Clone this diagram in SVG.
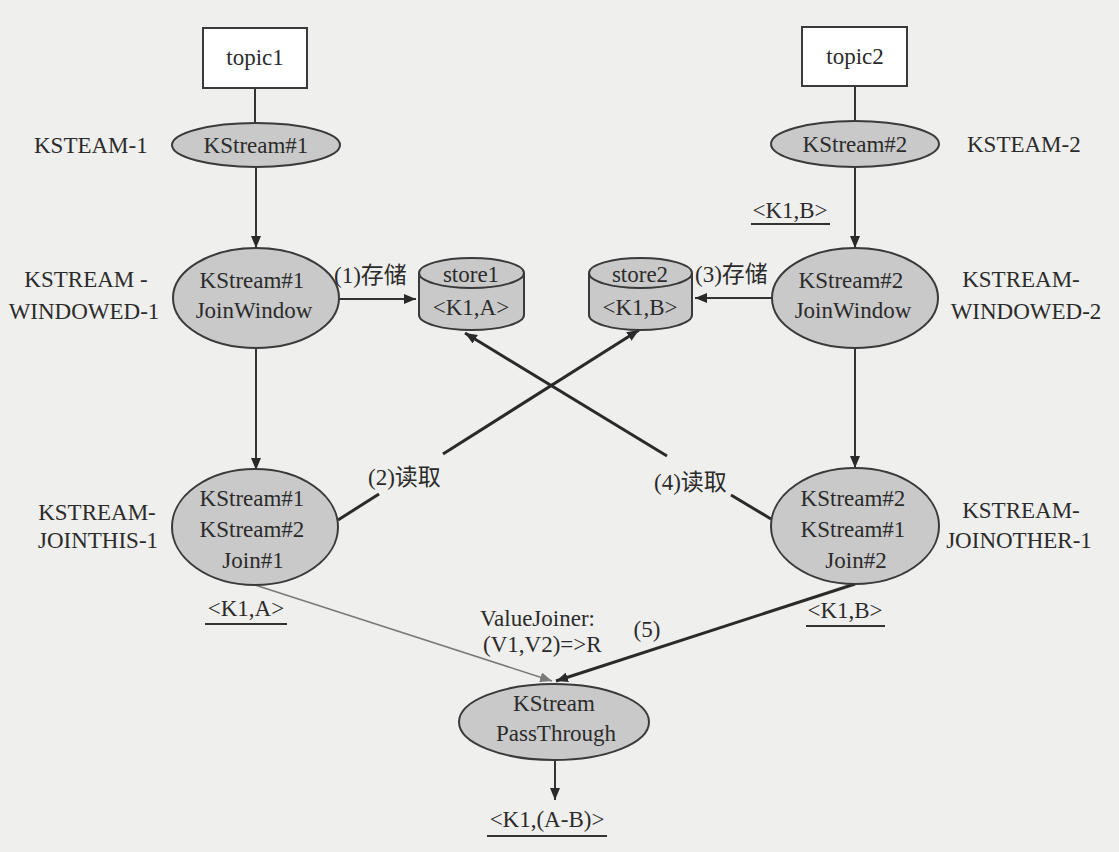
<svg xmlns="http://www.w3.org/2000/svg" width="1119" height="852" viewBox="0 0 1119 852">
<style>
text{font-family:"Liberation Serif","Noto Sans CJK SC",serif;font-size:23px;fill:#2b2b2b}
.m{text-anchor:middle}
.node{fill:#c9c9c9;stroke:#3a3a3a;stroke-width:2}
.box{fill:#ffffff;stroke:#3a3a3a;stroke-width:2}
.ln{stroke:#333;stroke-width:2;fill:none}
.thick{stroke:#2a2a2a;stroke-width:3;fill:none}
.thin{stroke:#7a7a7a;stroke-width:1.6;fill:none}
.ul{stroke:#333;stroke-width:2.2}
</style>
<defs>
<marker id="ah" viewBox="0 0 12 10" refX="12" refY="5" markerWidth="12" markerHeight="10" markerUnits="userSpaceOnUse" orient="auto">
<path d="M0,0 L12,5 L0,10 Z" fill="#2a2a2a"/>
</marker>
<marker id="ahg" viewBox="0 0 12 10" refX="12" refY="5" markerWidth="12" markerHeight="10" markerUnits="userSpaceOnUse" orient="auto">
<path d="M0,0 L12,5 L0,10 Z" fill="#7a7a7a"/>
</marker>
</defs>
<rect x="0" y="0" width="1119" height="852" fill="#efefed"/>

<g id="connectors">
<line class="ln" x1="255" y1="88" x2="255" y2="122"/>
<line class="ln" x1="855" y1="86" x2="855" y2="120"/>
<line class="ln" x1="256" y1="167" x2="256" y2="248" marker-end="url(#ah)"/>
<line class="ln" x1="855" y1="167" x2="855" y2="248" marker-end="url(#ah)"/>
<line class="ln" x1="339" y1="299" x2="416" y2="299" marker-end="url(#ah)"/>
<line class="ln" x1="772" y1="298" x2="695" y2="298" marker-end="url(#ah)"/>
<line class="ln" x1="256" y1="348" x2="256" y2="470" marker-end="url(#ah)"/>
<line class="ln" x1="855" y1="348" x2="855" y2="468" marker-end="url(#ah)"/>
<line class="thick" x1="338" y1="520" x2="379" y2="494"/>
<line class="thick" x1="443" y1="454" x2="639" y2="330" marker-end="url(#ah)"/>
<line class="thick" x1="771" y1="519" x2="731" y2="495"/>
<line class="thick" x1="667" y1="456" x2="465" y2="333" marker-end="url(#ah)"/>
<line class="thin" x1="255" y1="585" x2="552" y2="681" marker-end="url(#ahg)"/>
<line class="thick" x1="855" y1="584" x2="556" y2="681" marker-end="url(#ah)"/>
<line class="ln" x1="555" y1="760" x2="555" y2="800" marker-end="url(#ah)"/>
</g>

<g id="topic1">
<rect class="box" x="203" y="28" width="104" height="60"/>
<text class="m" x="255" y="65">topic1</text>
</g>
<g id="topic2">
<rect class="box" x="802" y="27" width="105" height="59"/>
<text class="m" x="855" y="64">topic2</text>
</g>

<g id="kstream1">
<ellipse class="node" cx="256" cy="145" rx="84" ry="22"/>
<text class="m" x="256" y="153">KStream#1</text>
<text x="34" y="153">KSTEAM-1</text>
</g>
<g id="kstream2">
<ellipse class="node" cx="855" cy="144" rx="84" ry="23"/>
<text class="m" x="855" y="152">KStream#2</text>
<text x="967" y="152">KSTEAM-2</text>
<text class="m" x="790" y="218">&lt;K1,B&gt;</text>
<line class="ul" x1="751" y1="224" x2="830" y2="224"/>
</g>

<g id="joinwindow1">
<ellipse class="node" cx="256" cy="298" rx="83" ry="50"/>
<text class="m" x="252" y="288">KStream#1</text>
<text class="m" x="254" y="318">JoinWindow</text>
<text class="m" x="86" y="287">KSTREAM -</text>
<text class="m" x="84" y="319">WINDOWED-1</text>
<text x="334" y="283">(1)存储</text>
</g>
<g id="joinwindow2">
<ellipse class="node" cx="855" cy="298" rx="83" ry="50"/>
<text class="m" x="851" y="288">KStream#2</text>
<text class="m" x="853" y="318">JoinWindow</text>
<text class="m" x="1021" y="287">KSTREAM-</text>
<text class="m" x="1026" y="319">WINDOWED-2</text>
<text x="695" y="282">(3)存储</text>
</g>

<g id="store1">
<path class="node" d="M419,273 L419,315 A52.5,15 0 0 0 524,315 L524,273"/>
<ellipse class="node" cx="471.5" cy="273" rx="52.5" ry="15"/>
<text class="m" x="471" y="282">store1</text>
<text class="m" x="471" y="315">&lt;K1,A&gt;</text>
</g>
<g id="store2">
<path class="node" d="M589,273 L589,315 A51.5,15 0 0 0 692,315 L692,273"/>
<ellipse class="node" cx="640.5" cy="273" rx="51.5" ry="15"/>
<text class="m" x="640" y="282">store2</text>
<text class="m" x="640" y="315">&lt;K1,B&gt;</text>
</g>

<g id="join1">
<ellipse class="node" cx="255" cy="527" rx="83" ry="58"/>
<text class="m" x="252" y="506">KStream#1</text>
<text class="m" x="252" y="537">KStream#2</text>
<text class="m" x="253" y="568">Join#1</text>
<text class="m" x="97" y="520">KSTREAM-</text>
<text class="m" x="98" y="548">JOINTHIS-1</text>
<text x="368" y="485">(2)读取</text>
<text class="m" x="246" y="616">&lt;K1,A&gt;</text>
<line class="ul" x1="205" y1="624" x2="287" y2="624"/>
</g>
<g id="join2">
<ellipse class="node" cx="855" cy="526" rx="84" ry="58"/>
<text class="m" x="853" y="506">KStream#2</text>
<text class="m" x="853" y="537">KStream#1</text>
<text class="m" x="856" y="568">Join#2</text>
<text class="m" x="1021" y="518">KSTREAM-</text>
<text class="m" x="1019" y="548">JOINOTHER-1</text>
<text x="654" y="490">(4)读取</text>
<text class="m" x="845" y="618">&lt;K1,B&gt;</text>
<line class="ul" x1="806" y1="626" x2="885" y2="626"/>
</g>

<g id="valuejoiner">
<text x="480" y="626">ValueJoiner:</text>
<text x="483" y="652">(V1,V2)=&gt;R</text>
<text class="m" x="647" y="637">(5)</text>
</g>

<g id="passthrough">
<ellipse class="node" cx="554" cy="722" rx="95" ry="38"/>
<text class="m" x="554" y="711">KStream</text>
<text class="m" x="556" y="741">PassThrough</text>
<text class="m" x="547" y="827">&lt;K1,(A-B)&gt;</text>
<line class="ul" x1="487" y1="836" x2="607" y2="836"/>
</g>
</svg>
